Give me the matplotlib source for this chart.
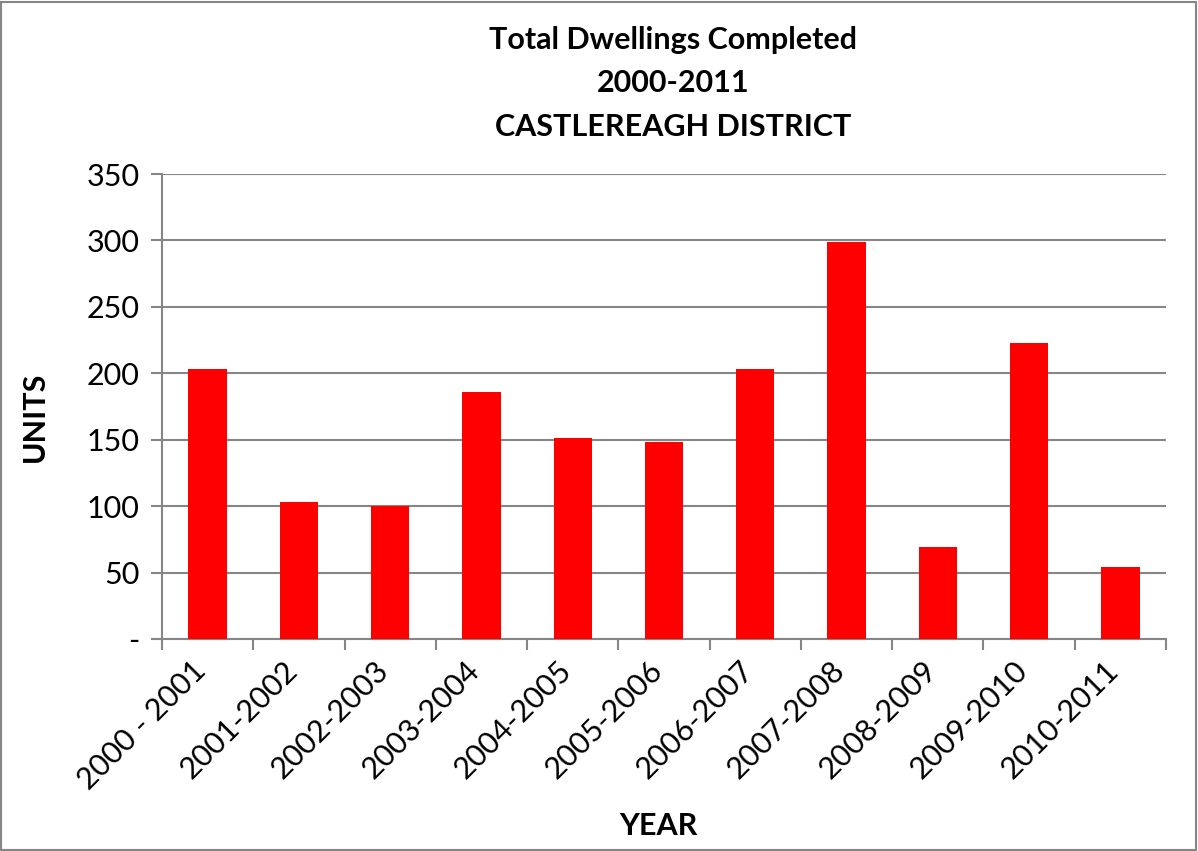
import numpy as np
import matplotlib
matplotlib.use('Agg')
from matplotlib import pyplot as plt
from matplotlib.patches import Rectangle
from matplotlib.transforms import ScaledTranslation

plt.rcParams['font.family'] = ['Lato', 'DejaVu Sans']

# data
years = ['2000 - 2001', '2001-2002', '2002-2003', '2003-2004', '2004-2005',
         '2005-2006', '2006-2007', '2007-2008', '2008-2009', '2009-2010', '2010-2011']
units = [203, 103, 100, 186, 151, 148, 203, 299, 69, 223, 54]
yticks = [0, 50, 100, 150, 200, 250, 300, 350]
ylabels = ['-', '50', '100', '150', '200', '250', '300', '350']

fig = plt.figure(figsize=(11.98, 8.51), dpi=100)
ax = fig.add_axes([162/1198, 1 - 639/851, (1166-162)/1198, (639-174)/851])

x = np.arange(len(years))
ax.bar(x, units, width=0.42, color='#FF0000', zorder=3)

ax.set_xlim(-0.5, len(years) - 0.5)
ax.set_ylim(0, 350)
ax.set_yticks(yticks)
ax.set_yticklabels(ylabels, fontsize=22)
ax.yaxis.grid(True, color='#868686', linewidth=1.5, zorder=0)

# ticks sit on category boundaries, labels at category centres
ax.set_xticks(np.arange(len(years) + 1) - 0.5)
ax.set_xticklabels([])
ax.set_xticks(x, minor=True)
ax.set_xticklabels(years, minor=True, rotation=45, ha='right',
                   rotation_mode='anchor', fontsize=22)
ax.tick_params(axis='x', which='minor', length=0, pad=12)
ax.tick_params(axis='x', which='major', length=8, color='#868686', width=1.5)
ax.tick_params(axis='y', length=8, color='#868686', width=1.5, pad=8)

shift = ScaledTranslation(-16/100, 0, fig.dpi_scale_trans)
for lab in ax.get_xticklabels(minor=True):
    lab.set_transform(lab.get_transform() + shift)

for s in ['top', 'right']:
    ax.spines[s].set_visible(False)
for s in ['left', 'bottom']:
    ax.spines[s].set_color('#868686')
    ax.spines[s].set_linewidth(1.5)

tx = 673/1198
fig.text(tx, 1 - 40/851, 'Total Dwellings Completed', ha='center', va='center',
         fontsize=22, fontweight='bold')
fig.text(tx, 1 - 83/851, '2000-2011', ha='center', va='center',
         fontsize=22, fontweight='bold')
fig.text(tx, 1 - 127/851, 'CASTLEREAGH DISTRICT', ha='center', va='center',
         fontsize=22, fontweight='bold')
fig.text(35/1198, 1 - 417/851, 'UNITS', rotation=90, ha='center', va='center',
         fontsize=22, fontweight='bold')
fig.text(658/1198, 1 - 826/851, 'YEAR', ha='center', va='center',
         fontsize=22, fontweight='bold')

# chart border
fig.patches.append(Rectangle((0.001, 0.001), 0.997, 0.997, transform=fig.transFigure,
                             fill=False, edgecolor='#868686', linewidth=1.5))

fig.savefig('out.png', dpi=100)
